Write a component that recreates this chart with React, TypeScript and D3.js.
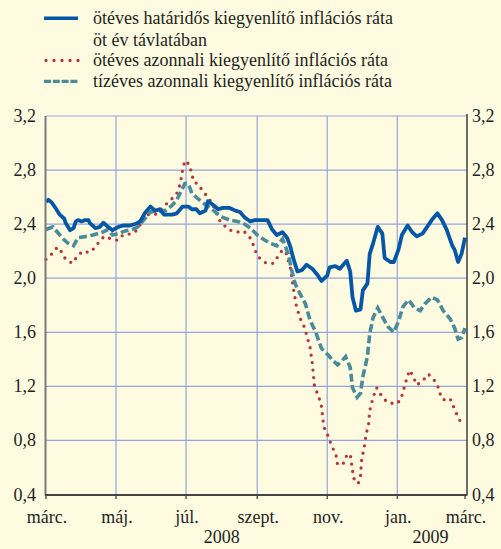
import React from "react";
import * as d3 from "d3";

// five-year forward, five-year spot and ten-year spot break-even inflation (%)
const forwardDates = [
  "2008-03-01", "2008-03-03", "2008-03-06", "2008-03-10", "2008-03-13", "2008-03-17", "2008-03-18",
  "2008-03-22", "2008-03-25", "2008-03-27", "2008-03-29", "2008-04-01", "2008-04-04", "2008-04-07",
  "2008-04-08", "2008-04-13", "2008-04-17", "2008-04-20", "2008-04-24", "2008-04-28", "2008-05-03",
  "2008-05-07", "2008-05-13", "2008-05-19", "2008-05-22", "2008-05-26", "2008-05-31", "2008-06-04",
  "2008-06-08", "2008-06-12", "2008-06-14", "2008-06-19", "2008-06-23", "2008-06-28", "2008-07-03",
  "2008-07-06", "2008-07-10", "2008-07-13", "2008-07-18", "2008-07-20", "2008-07-25", "2008-07-29",
  "2008-08-02", "2008-08-08", "2008-08-13", "2008-08-17", "2008-08-21", "2008-08-26", "2008-08-30",
  "2008-09-05", "2008-09-10", "2008-09-14", "2008-09-18", "2008-09-23", "2008-09-27", "2008-09-30",
  "2008-10-02", "2008-10-06", "2008-10-10", "2008-10-14", "2008-10-19", "2008-10-23", "2008-10-27",
  "2008-11-01", "2008-11-03", "2008-11-08", "2008-11-12", "2008-11-18", "2008-11-21", "2008-11-23",
  "2008-11-26", "2008-11-30", "2008-12-02", "2008-12-06", "2008-12-08", "2008-12-11", "2008-12-15",
  "2008-12-19", "2008-12-21", "2008-12-26", "2008-12-29", "2009-01-02", "2009-01-05", "2009-01-10",
  "2009-01-14", "2009-01-18", "2009-01-23", "2009-01-27", "2009-01-31", "2009-02-05", "2009-02-09",
  "2009-02-13", "2009-02-18", "2009-02-20", "2009-02-23", "2009-02-26", "2009-03-01",
];
const forwardValues = [
  2.565, 2.58, 2.56, 2.51, 2.47, 2.44, 2.41,
  2.355, 2.37, 2.42, 2.43, 2.42, 2.43, 2.43,
  2.41, 2.37, 2.38, 2.41, 2.38, 2.355, 2.38,
  2.39, 2.39, 2.405, 2.42, 2.48, 2.53, 2.5,
  2.51, 2.47, 2.47, 2.47, 2.48, 2.53, 2.53,
  2.51, 2.51, 2.48, 2.5, 2.57, 2.54, 2.51,
  2.52, 2.52, 2.5, 2.49, 2.45, 2.42, 2.43,
  2.43, 2.43, 2.36, 2.32, 2.34, 2.3, 2.23,
  2.16, 2.05, 2.06, 2.1, 2.07, 2.03, 1.98,
  2.02, 2.08, 2.09, 2.07, 2.13, 2.05, 1.86,
  1.76, 1.77, 1.91, 1.96, 2.18, 2.26, 2.38,
  2.33, 2.15, 2.12, 2.12, 2.21, 2.32, 2.39,
  2.34, 2.31, 2.33, 2.38, 2.43, 2.48, 2.43,
  2.36, 2.24, 2.21, 2.12, 2.18, 2.3,
];

const spot5Dates = [
  "2008-03-01", "2008-03-06", "2008-03-11", "2008-03-15", "2008-03-18", "2008-03-24", "2008-03-28",
  "2008-04-02", "2008-04-08", "2008-04-13", "2008-04-17", "2008-04-21", "2008-04-27", "2008-05-03",
  "2008-05-07", "2008-05-15", "2008-05-20", "2008-05-26", "2008-06-04", "2008-06-08", "2008-06-14",
  "2008-06-19", "2008-06-23", "2008-06-26", "2008-06-28", "2008-06-30", "2008-07-04", "2008-07-06",
  "2008-07-08", "2008-07-11", "2008-07-16", "2008-07-20", "2008-07-24", "2008-07-27", "2008-07-30",
  "2008-08-02", "2008-08-07", "2008-08-14", "2008-08-20", "2008-08-25", "2008-08-28", "2008-08-31",
  "2008-09-03", "2008-09-09", "2008-09-15", "2008-09-19", "2008-09-23", "2008-09-26", "2008-09-28",
  "2008-09-30", "2008-10-02", "2008-10-05", "2008-10-08", "2008-10-12", "2008-10-15", "2008-10-17",
  "2008-10-19", "2008-10-21", "2008-10-24", "2008-10-27", "2008-10-29", "2008-11-01", "2008-11-03",
  "2008-11-06", "2008-11-09", "2008-11-10", "2008-11-15", "2008-11-18", "2008-11-21", "2008-11-22",
  "2008-11-24", "2008-11-28", "2008-11-30", "2008-12-01", "2008-12-03", "2008-12-05", "2008-12-07",
  "2008-12-08", "2008-12-11", "2008-12-14", "2008-12-16", "2008-12-20", "2008-12-24", "2008-12-31",
  "2009-01-04", "2009-01-06", "2009-01-08", "2009-01-10", "2009-01-12", "2009-01-15", "2009-01-18",
  "2009-01-23", "2009-01-28", "2009-02-01", "2009-02-05", "2009-02-07", "2009-02-10", "2009-02-16",
  "2009-02-19", "2009-02-22", "2009-02-25", "2009-02-28",
];
const spot5Values = [
  2.14, 2.18, 2.23, 2.19, 2.14, 2.11, 2.16,
  2.2, 2.19, 2.23, 2.28, 2.31, 2.29, 2.28,
  2.32, 2.33, 2.36, 2.47, 2.47, 2.5, 2.55,
  2.59, 2.63, 2.7, 2.8, 2.87, 2.84, 2.77,
  2.71, 2.7, 2.64, 2.6, 2.55, 2.49, 2.43,
  2.4, 2.36, 2.34, 2.35, 2.31, 2.26, 2.19,
  2.15, 2.11, 2.11, 2.16, 2.21, 2.19, 2.13,
  2.07, 1.95, 1.8, 1.71, 1.64, 1.55, 1.49,
  1.37, 1.19, 1.14, 1.05, 0.9, 0.85, 0.8,
  0.74, 0.68, 0.62, 0.63, 0.69, 0.7, 0.64,
  0.52, 0.48, 0.54, 0.66, 0.74, 0.85, 0.92,
  1.02, 1.12, 1.19, 1.16, 1.11, 1.08, 1.07,
  1.1, 1.16, 1.22, 1.28, 1.32, 1.27, 1.21,
  1.24, 1.29, 1.26, 1.21, 1.15, 1.1, 1.11,
  1.05, 0.99, 0.94, 0.97,
];

const spot10Dates = [
  "2008-03-01", "2008-03-07", "2008-03-11", "2008-03-16", "2008-03-20", "2008-03-25", "2008-03-29",
  "2008-04-06", "2008-04-11", "2008-04-19", "2008-04-24", "2008-04-28", "2008-05-03", "2008-05-09",
  "2008-05-15", "2008-05-20", "2008-05-26", "2008-05-31", "2008-06-07", "2008-06-13", "2008-06-19",
  "2008-06-23", "2008-06-27", "2008-06-30", "2008-07-03", "2008-07-06", "2008-07-11", "2008-07-17",
  "2008-07-22", "2008-07-28", "2008-08-02", "2008-08-08", "2008-08-15", "2008-08-21", "2008-08-26",
  "2008-09-01", "2008-09-06", "2008-09-12", "2008-09-18", "2008-09-23", "2008-09-25", "2008-09-28",
  "2008-10-01", "2008-10-04", "2008-10-08", "2008-10-13", "2008-10-17", "2008-10-22", "2008-10-27",
  "2008-11-02", "2008-11-06", "2008-11-10", "2008-11-14", "2008-11-17", "2008-11-21", "2008-11-23",
  "2008-11-27", "2008-11-30", "2008-12-02", "2008-12-06", "2008-12-08", "2008-12-11", "2008-12-15",
  "2008-12-20", "2008-12-24", "2008-12-29", "2009-01-02", "2009-01-06", "2009-01-11", "2009-01-16",
  "2009-01-21", "2009-01-25", "2009-01-31", "2009-02-05", "2009-02-10", "2009-02-16", "2009-02-20",
  "2009-02-23", "2009-02-26", "2009-03-01",
];
const spot10Values = [
  2.36, 2.38, 2.34, 2.29, 2.26, 2.24, 2.3,
  2.31, 2.32, 2.34, 2.36, 2.32, 2.33, 2.35,
  2.36, 2.38, 2.44, 2.49, 2.5, 2.5, 2.54,
  2.58, 2.65, 2.7, 2.7, 2.63, 2.59, 2.55,
  2.52, 2.48, 2.45, 2.43, 2.42, 2.4, 2.37,
  2.32, 2.29, 2.26, 2.24, 2.29, 2.25, 2.18,
  2.06, 1.96, 1.89, 1.81, 1.69, 1.6, 1.48,
  1.43, 1.39, 1.36, 1.39, 1.42, 1.34, 1.19,
  1.12, 1.15, 1.27, 1.42, 1.59, 1.71, 1.78,
  1.7, 1.64, 1.6, 1.68, 1.79, 1.84, 1.78,
  1.76, 1.81, 1.86, 1.84, 1.76, 1.7, 1.63,
  1.55, 1.56, 1.63,
];

const yTicks = [0.4, 0.8, 1.2, 1.6, 2.0, 2.4, 2.8, 3.2];
const monthTicks = ["2008-03-01", "2008-05-01", "2008-07-01", "2008-09-01", "2008-11-01", "2009-01-01", "2009-03-01"];
const monthLabels = ["márc.", "máj.", "júl.", "szept.", "nov.", "jan.", "márc."];
const yearDates = ["2008-08-01", "2009-01-30"];
const yearLabels = ["2008", "2009"];

const legendLabels = [
  "ötéves határidős kiegyenlítő inflációs ráta",
  "öt év távlatában",
  "ötéves azonnali kiegyenlítő inflációs ráta",
  "tízéves azonnali kiegyenlítő inflációs ráta",
];

const W = 501;
const H = 549;
const left = 46;
const right = 467;
const top = 116;
const bottom = 494.5;

const BG = "#fefbe1";
const GRID = "#94a5de";
const TEXT = "#231f20";
const BLUE = "#0456a6";
const RED = "#b3363a";
const TEAL = "#4a8b9b";
const FONT = "Liberation Serif, Times New Roman, serif";

const parse = d3.timeParse("%Y-%m-%d");
const fmt = (v: number) => d3.format(".1f")(v).replace(".", ",");

function App() {
  const x = d3
    .scaleTime()
    .domain([parse("2008-03-01")!, parse("2009-03-01")!])
    .range([left, 465]);
  const y = d3.scaleLinear().domain([0.4, 3.2]).range([bottom, top]);

  const line = d3
    .line<[Date, number]>()
    .x(d => x(d[0]))
    .y(d => y(d[1]));

  const zip = (dates: string[], vals: number[]) =>
    dates.map((d, i) => [parse(d)!, vals[i]] as [Date, number]);

  const forward = zip(forwardDates, forwardValues);
  const spot5 = zip(spot5Dates, spot5Values);
  const spot10 = zip(spot10Dates, spot10Values);

  const txt = { fontFamily: FONT, fontSize: "18px", fill: TEXT };

  return (
    <svg
      width={W}
      height={H}
      style={{ position: "absolute", left: 0, top: 0, display: "block" }}
    >
      <rect width={W} height={H} fill={BG} />

      {/* legend */}
      <g>
        <line x1={44} x2={78} y1={18.3} y2={18.3} stroke={BLUE} strokeWidth={3.6} />
        <line
          x1={46} x2={79} y1={60.5} y2={60.5}
          stroke={RED} strokeWidth={3.3} strokeLinecap="round" strokeDasharray="0 8"
        />
        <line
          x1={44} x2={78} y1={81.3} y2={81.3}
          stroke={TEAL} strokeWidth={3.3} strokeDasharray="7 1.8"
        />
        {legendLabels.map((t, i) => (
          <text key={i} x={93} y={[24, 45.5, 66, 86.5][i]} style={txt}>
            {t}
          </text>
        ))}
      </g>

      {/* grid */}
      {yTicks.map(v => (
        <line key={v} x1={left} x2={right} y1={y(v)} y2={y(v)} stroke={GRID} strokeWidth={1.2} />
      ))}
      {monthTicks.slice(1, -1).map(d => (
        <line
          key={d}
          x1={x(parse(d)!)} x2={x(parse(d)!)}
          y1={top} y2={bottom}
          stroke={GRID} strokeWidth={1.2}
        />
      ))}

      {/* series */}
      <path
        d={line(spot5) || ""}
        fill="none" stroke={RED} strokeWidth={3.3}
        strokeLinecap="round" strokeDasharray="0 7.5"
      />
      <path
        d={line(spot10) || ""}
        fill="none" stroke={TEAL} strokeWidth={3.6}
        strokeDasharray="8 3.5"
      />
      <path
        d={line(forward) || ""}
        fill="none" stroke={BLUE} strokeWidth={3.8}
        strokeLinejoin="round"
      />

      {/* axes */}
      <line x1={45.5} x2={45.5} y1={top} y2={bottom + 1} stroke="#7a7a7a" strokeWidth={2} />
      <line x1={right} x2={right} y1={top - 2} y2={bottom + 1} stroke="#222" strokeWidth={1.3} />
      <line x1={45} x2={right} y1={bottom + 0.5} y2={bottom + 0.5} stroke="#444" strokeWidth={1.8} />
      {monthTicks.map(d => (
        <line
          key={d}
          x1={x(parse(d)!)} x2={x(parse(d)!)}
          y1={bottom} y2={bottom + 4.5}
          stroke="#444" strokeWidth={1.3}
        />
      ))}

      {yTicks.map(v => (
        <g key={v}>
          <text x={36} y={y(v) + 6} textAnchor="end" style={txt}>
            {fmt(v)}
          </text>
          <text x={472} y={y(v) + 6} style={txt}>
            {fmt(v)}
          </text>
        </g>
      ))}

      {monthTicks.map((d, i) => (
        <text key={d} x={x(parse(d)!) + 1} y={523} textAnchor="middle" style={txt}>
          {monthLabels[i]}
        </text>
      ))}
      {yearDates.map((d, i) => (
        <text key={d} x={x(parse(d)!)} y={543} textAnchor="middle" style={txt}>
          {yearLabels[i]}
        </text>
      ))}
    </svg>
  );
}

export default App;
